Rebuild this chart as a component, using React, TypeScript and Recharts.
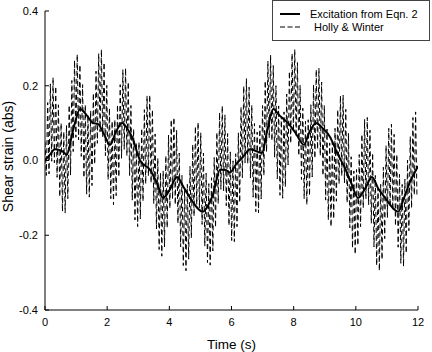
import { LineChart, Line, XAxis, YAxis } from "recharts";

// time axis (s) and strain axis ticks
const xTicks = [0, 2, 4, 6, 8, 10, 12];
const yTicks = [-0.4, -0.2, 0, 0.2, 0.4];

// "Excitation from Eqn. 2" (solid)
const solidTimes = [
  0, 0.15, 0.32, 0.55, 0.7, 0.9, 1.13, 1.35, 1.55, 1.7, 1.9, 2.09, 2.3, 2.48,
  2.65, 2.8, 3.06, 3.38, 3.6, 3.8, 4.0, 4.25, 4.45, 4.67, 5.08, 5.25, 5.4,
  5.63, 5.8, 5.95, 6.15, 6.37, 6.6, 6.98, 7.15, 7.34, 7.55, 7.82, 8.05, 8.33,
  8.5, 8.72, 8.95, 9.17, 9.4, 9.65, 9.85, 10.07, 10.3, 10.52, 10.72, 10.94,
  11.36, 11.55, 11.74, 11.97, 12,
];
const solidValues = [
  0, 0.015, 0.03, 0.025, 0.015, 0.08, 0.138, 0.12, 0.1, 0.098, 0.07, 0.042,
  0.08, 0.1, 0.085, 0.063, 0, -0.025, -0.06, -0.1, -0.08, -0.044, -0.07, -0.1,
  -0.137, -0.12, -0.092, -0.025, -0.025, -0.032, -0.01, 0.01, 0.03, 0.02,
  0.08, 0.138, 0.12, 0.1, 0.075, 0.042, 0.075, 0.1, 0.085, 0.063, 0.02, -0.02,
  -0.06, -0.1, -0.075, -0.044, -0.075, -0.1, -0.137, -0.1, -0.058, -0.02,
  -0.015,
];

// "Holly & Winter" (dashed), turning points sampled every DASH_STEP seconds
const DASH_STEP = 0.0432;
const dashValues = [
  0.05, -0.04, 0.155, -0.036, 0.205, -0.002, 0.222, -0.006, 0.198, -0.045, 0.149, -0.097, 0.1, -0.136, 0.077, -0.14, 0.094, -0.102,
  0.148, -0.039, 0.214, 0.024, 0.268, 0.062, 0.284, 0.055, 0.256, 0.011, 0.203, -0.046, 0.149, -0.09, 0.121, -0.098, 0.133, -0.067,
  0.18, -0.01, 0.239, 0.046, 0.286, 0.077, 0.297, 0.064, 0.262, 0.013, 0.201, -0.051, 0.14, -0.102, 0.105, -0.118, 0.109, -0.094,
  0.149, -0.044, 0.203, 0.006, 0.243, 0.03, 0.247, 0.013, 0.21, -0.04, 0.147, -0.106, 0.084, -0.159, 0.047, -0.177, 0.049, -0.156,
  0.086, -0.109, 0.136, -0.062, 0.173, -0.041, 0.175, -0.06, 0.136, -0.115, 0.071, -0.183, 0.006, -0.238, -0.033, -0.256, -0.028, -0.231,
  0.013, -0.18, 0.068, -0.128, 0.109, -0.103, 0.115, -0.118, 0.081, -0.168, 0.02, -0.231, -0.04, -0.281, -0.074, -0.295, -0.064, -0.264,
  -0.016, -0.207, 0.043, -0.149, 0.091, -0.118, 0.102, -0.127, 0.074, -0.171, 0.02, -0.229, -0.034, -0.273, -0.062, -0.28, -0.046, -0.242,
  0.008, -0.179, 0.075, -0.115, 0.128, -0.077, 0.146, -0.081, 0.122, -0.121, 0.072, -0.174, 0.023, -0.214, -0.001, -0.217, 0.018, -0.177,
  0.074, -0.112, 0.143, -0.046, 0.199, -0.006, 0.219, -0.008, 0.196, -0.047, 0.148, -0.098, 0.099, -0.137, 0.076, -0.14, 0.094, -0.103,
  0.147, -0.04, 0.213, 0.023, 0.266, 0.06, 0.282, 0.053, 0.254, 0.009, 0.2, -0.049, 0.146, -0.093, 0.118, -0.101, 0.13, -0.07,
  0.178, -0.012, 0.238, 0.046, 0.286, 0.077, 0.297, 0.064, 0.262, 0.013, 0.201, -0.051, 0.14, -0.102, 0.105, -0.118, 0.109, -0.094,
  0.149, -0.044, 0.203, 0.006, 0.243, 0.03, 0.247, 0.013, 0.21, -0.04, 0.147, -0.106, 0.084, -0.159, 0.047, -0.177, 0.049, -0.156,
  0.086, -0.109, 0.136, -0.062, 0.173, -0.041, 0.175, -0.06, 0.137, -0.113, 0.073, -0.18, 0.01, -0.234, -0.028, -0.251, -0.024, -0.227,
  0.016, -0.177, 0.07, -0.127, 0.11, -0.103, 0.115, -0.118, 0.081, -0.168, 0.02, -0.231, -0.04, -0.281, -0.074, -0.295, -0.064, -0.265,
  -0.018, -0.209, 0.04, -0.153, 0.086, -0.123, 0.097, -0.132, 0.07, -0.175, 0.016, -0.232, -0.037, -0.275, -0.064, -0.283, -0.05, -0.248,
  0.001, -0.188, 0.064, -0.127, 0.115, -0.092, 0.13, -0.099,
];

const FONT = '"Liberation Sans", Arial, sans-serif';
const tickStyle = { fontSize: 11, fill: "#000", fontFamily: FONT };

function XLabel(props: any) {
  const vb = props.viewBox || {};
  return (
    <text
      x={vb.x + vb.width / 2}
      y={vb.y + 39}
      textAnchor="middle"
      fontSize={13.5}
      fontFamily={FONT}
      fill="#000"
    >
      Time (s)
    </text>
  );
}

function YLabel(props: any) {
  const vb = props.viewBox || {};
  const cx = 13;
  const cy = vb.y + vb.height / 2 - 4;
  return (
    <text
      x={cx}
      y={cy}
      transform={`rotate(-90 ${cx} ${cy})`}
      textAnchor="middle"
      fontSize={14}
      fontFamily={FONT}
      fill="#000"
    >
      Shear strain (abs)
    </text>
  );
}

export default function App() {
  const solidData = solidTimes.map((t, i) => ({ t, v: solidValues[i] }));
  const dashData = dashValues.map((v, i) => ({ t: i * DASH_STEP, v }));

  return (
    <div
      style={{
        position: "absolute",
        left: 0,
        top: 0,
        width: 432,
        height: 352,
        background: "#fff",
        fontFamily: FONT,
      }}
    >
      <LineChart
        width={432}
        height={352}
        margin={{ top: 11, right: 14, left: 0, bottom: 0 }}
      >
        <XAxis
          xAxisId={0}
          dataKey="t"
          type="number"
          domain={[0, 12]}
          ticks={xTicks}
          allowDataOverflow
          height={42}
          stroke="#000"
          tickSize={-4}
          tickMargin={12}
          tick={tickStyle}
          label={<XLabel />}
        />
        <XAxis
          xAxisId="top"
          orientation="top"
          dataKey="t"
          type="number"
          domain={[0, 12]}
          ticks={xTicks}
          allowDataOverflow
          height={0}
          stroke="#000"
          tickSize={-4}
          tick={false}
        />
        <YAxis
          yAxisId={0}
          type="number"
          domain={[-0.4, 0.4]}
          ticks={yTicks}
          allowDataOverflow
          width={45}
          stroke="#000"
          tickSize={-4}
          tickMargin={11}
          tick={tickStyle}
          tickFormatter={(v: number) => v.toFixed(1)}
          label={<YLabel />}
        />
        <YAxis
          yAxisId="right"
          orientation="right"
          type="number"
          domain={[-0.4, 0.4]}
          ticks={yTicks}
          allowDataOverflow
          width={0}
          stroke="#000"
          tickSize={-4}
          tick={false}
        />
        <Line
          data={dashData}
          dataKey="v"
          type="linear"
          stroke="#000"
          strokeWidth={1}
          strokeDasharray="5 3"
          dot={false}
          isAnimationActive={false}
        />
        <Line
          data={solidData}
          dataKey="v"
          type="monotone"
          stroke="#000"
          strokeWidth={2}
          dot={false}
          isAnimationActive={false}
        />
      </LineChart>
      <svg
        width={158}
        height={41}
        style={{ position: "absolute", left: 272, top: 0 }}
      >
        <rect x={0.5} y={0.5} width={157} height={40} fill="#fff" stroke="#444" />
        <line x1={8} y1={14} x2={28} y2={14} stroke="#000" strokeWidth={2} />
        <line
          x1={8}
          y1={27}
          x2={28}
          y2={27}
          stroke="#000"
          strokeWidth={1}
          strokeDasharray="5 2.5"
        />
        <text x={38} y={18} fontSize={11} fontFamily={FONT} fill="#000">
          Excitation from Eqn. 2
        </text>
        <text x={42} y={31} fontSize={11} fontFamily={FONT} fill="#000">
          Holly &amp; Winter
        </text>
      </svg>
    </div>
  );
}
